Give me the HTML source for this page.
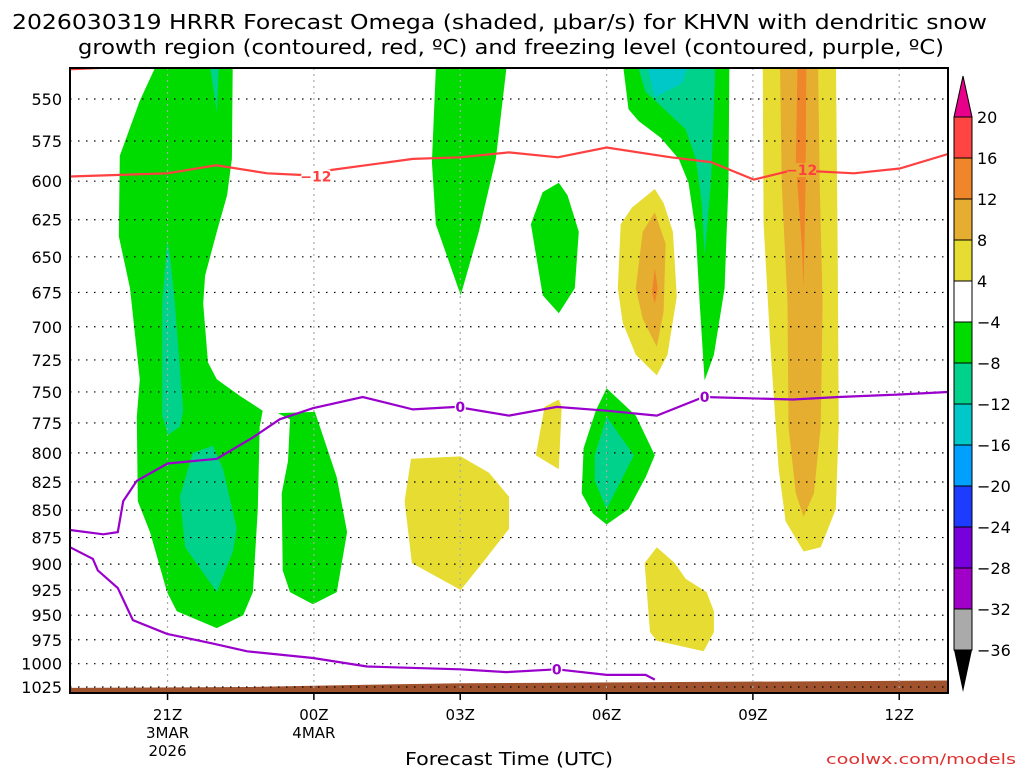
<!DOCTYPE html>
<html><head><meta charset="utf-8"><style>
html,body{margin:0;padding:0;background:#fff;width:1024px;height:768px;overflow:hidden}
svg{display:block;font-family:"DejaVu Sans","Liberation Sans",sans-serif}
</style></head><body>
<svg id="chart" width="1024" height="768" viewBox="0 0 1024 768" xmlns="http://www.w3.org/2000/svg">
<text x="12" y="29" font-size="20" textLength="975" lengthAdjust="spacingAndGlyphs">2026030319 HRRR Forecast Omega (shaded, μbar/s) for KHVN with dendritic snow</text>
<text x="78" y="54" font-size="20" textLength="866" lengthAdjust="spacingAndGlyphs">growth region (contoured, red, ºC) and freezing level (contoured, purple, ºC)</text>
<defs><clipPath id="plotclip"><rect x="70" y="68" width="878" height="625"/></clipPath></defs>
<g id="shade" clip-path="url(#plotclip)"></g>
<g id="grid"></g>
<g id="lines" clip-path="url(#plotclip)"></g>
<g id="axes"></g>
<g id="cbar"></g>
<text x="509" y="765" font-size="18" text-anchor="middle" textLength="208" lengthAdjust="spacingAndGlyphs">Forecast Time (UTC)</text>
<text x="1016" y="764" font-size="14" fill="#e03030" text-anchor="end" textLength="190" lengthAdjust="spacingAndGlyphs">coolwx.com/models</text>
</svg>
<script>
const pressureTicks=[550,575,600,625,650,675,700,725,750,775,800,825,850,875,900,925,950,975,1000,1025];
const timeTickHours=[2,5,8,11,14,17];
const timeTickLabels=["21Z","00Z","03Z","06Z","09Z","12Z"];
const timeTickSub=[["3MAR","2026"],["4MAR"],[],[],[],[]];
const cbarLevels=["20","16","12","8","4","−4","−8","−12","−16","−20","−24","−28","−32","−36"];
const cbarColors=["#ff4444","#f0862a","#e6ae30","#e6dc32","#ffffff","#00dc00","#00d28c","#00c8c8","#00a0ff","#1e3cff","#7800dc","#a000c8","#aaaaaa"];
// shaded regions: [hour since 19Z, pressure hPa]
const yellowA=[[6.99,805],[6.86,842],[7.01,899],[8.01,925],[8.52,895],[9.0,867],[9.0,838],[8.59,817],[8.01,803]];
const yellowB=[[10.02,756],[9.73,762],[9.55,802],[10.02,814],[10.08,762]];
const yellowC=[[11.99,605],[11.52,617],[11.29,628],[11.23,672],[11.33,697],[11.6,721],[12.03,737],[12.25,721],[12.44,678],[12.36,633],[12.17,614]];
const orangeC=[[11.99,620],[11.74,633],[11.6,672],[11.74,694],[12.03,715],[12.17,689],[12.21,641]];
const darkOrangeC=[[11.99,658],[11.93,675],[11.99,683],[12.05,672]];
const yellowD=[[12.03,884],[11.78,899],[11.89,967],[12.03,976],[12.99,987],[13.2,967],[13.2,946],[13.05,927],[12.62,914],[12.4,899]];
const yellowE=[[14.2,520],[14.22,628],[14.36,715],[14.53,814],[14.67,860],[15.04,888],[15.39,884],[15.7,849],[15.76,778],[15.74,655],[15.7,520]];
const orangeE=[[14.55,520],[14.59,601],[14.71,683],[14.73,778],[14.88,835],[15.04,856],[15.25,835],[15.39,778],[15.43,683],[15.37,601],[15.33,520]];
const darkOrangeE=[[14.92,520],[14.88,588],[15.0,641],[15.04,672],[15.08,601],[15.1,520]];
const greenA=[[1.95,520],[1.43,551],[1.02,584],[1.0,636],[1.23,672],[1.43,740],[1.37,770],[1.39,842],[1.64,870],[1.99,927],[2.19,946],[3.01,963],[3.55,950],[3.75,927],[3.85,849],[3.89,778],[3.95,765],[3.48,753],[3.01,740],[2.83,727],[2.73,683],[2.77,663],[3.01,633],[3.22,609],[3.32,586],[3.34,520]];
const tealA1=[[2.81,520],[3.01,558],[3.07,520]];
const tealA2=[[1.99,639],[1.89,683],[1.89,769],[2.01,785],[2.25,778],[2.32,765],[2.15,683],[2.05,649]];
const tealA3=[[2.93,794],[2.52,800],[2.25,838],[2.36,884],[3.01,927],[3.34,888],[3.42,867],[3.14,814]];
const greenB=[[4.26,767],[4.51,772],[4.47,807],[4.34,835],[4.36,906],[4.51,927],[4.98,939],[5.47,927],[5.68,870],[5.47,821],[5.18,785],[5.02,766]];
const greenC=[[7.52,520],[7.42,588],[7.5,628],[8.01,677],[8.38,633],[8.73,586],[9.0,520]];
const greenD=[[10.02,601],[9.69,607],[9.45,628],[9.69,677],[10.02,690],[10.35,672],[10.43,633],[10.2,609]];
const greenE=[[11.0,747],[10.78,765],[10.53,796],[10.49,835],[10.72,853],[11.0,863],[11.45,849],[11.8,821],[11.99,802],[11.6,769]];
const tealE=[[11.0,770],[10.76,802],[10.76,824],[11.0,849],[11.56,802]];
const greenF=[[11.29,520],[11.45,556],[11.66,563],[12.11,573],[12.48,586],[12.68,601],[12.83,633],[12.91,683],[13.01,741],[13.2,721],[13.42,672],[13.5,601],[13.52,520]];
const tealF=[[11.52,520],[11.8,546],[12.11,554],[12.62,568],[12.83,586],[12.95,614],[13.01,649],[13.14,601],[13.2,556],[13.24,520]];
const cyanF=[[11.74,520],[11.99,549],[12.54,541],[12.83,520]];
// contour lines
const dgzMinus12=[[0,597],[2.0,595],[3.0,590],[4.04,595],[4.71,596],[5.33,593],[7.03,586],[8.0,585],[9.0,582],[10.0,585],[11.0,579],[12.32,585],[13.14,588],[14.02,599],[14.82,593],[16.07,595],[17.01,592],[18,583]];
const dgzTopLeft=[[0,533],[1.64,531]];
const freezingUpper=[[0,868],[0.68,872],[0.98,870],[1.09,842],[1.37,824],[2.0,809],[3.01,805],[3.75,787],[4.3,772],[4.98,763],[6.0,754],[7.03,764],[7.93,762],[9.0,769],[9.98,762],[11.0,765],[12.03,769],[12.99,754],[14.82,756],[15.76,754],[17.01,752],[18,750]];
const freezingLower=[[0,884],[0.47,895],[0.57,906],[0.98,923],[1.29,955],[1.99,969],[2.93,979],[3.63,987],[4.98,994],[6.09,1003],[7.99,1006],[8.95,1009],[9.98,1006],[11.0,1012],[11.8,1012],[11.99,1017]];
const surfacePressure=[[0,1026],[3.69,1025],[5.53,1023],[7.99,1021],[18,1018]];
const redLabels=[[5.04,597,"−12"],[15.0,593,"−12"]];
const purpleLabels=[[8.0,762,"0"],[13.01,754,"0"],[9.98,1006,"0"]];

const X0=70,X1=948,Y0=68,Y1=693,H0=0,H1=18;
const yTop=99,yBot=687,pTop=550,pBot=1025;
const xs=h=>X0+(h-H0)/(H1-H0)*(X1-X0);
const ys=p=>yTop+(yBot-yTop)*Math.log(p/pTop)/Math.log(pBot/pTop);
const NS="http://www.w3.org/2000/svg";
function mk(tag,parent,attrs){const e=document.createElementNS(NS,tag);for(const k in attrs)e.setAttribute(k,attrs[k]);parent.appendChild(e);return e;}
const pts=a=>a.map(d=>xs(d[0]).toFixed(1)+","+ys(d[1]).toFixed(1)).join(" ");
const shade=document.getElementById("shade");
function poly(arr,color,name){const e=mk("polygon",shade,{points:pts(arr),fill:color});

}
poly(greenA,"#00dc00","omega-region-green-21z");
poly(tealA1,"#00d28c","omega-region-teal-21z-top");
poly(tealA2,"#00d28c","omega-region-teal-21z-mid");
poly(tealA3,"#00d28c","omega-region-teal-21z-low");
poly(greenB,"#00dc00","omega-region-green-00z");
poly(greenC,"#00dc00","omega-region-green-03z");
poly(greenD,"#00dc00","omega-region-green-05z");
poly(greenE,"#00dc00","omega-region-green-06z");
poly(tealE,"#00d28c","omega-region-teal-06z");
poly(greenF,"#00dc00","omega-region-green-07z");
poly(tealF,"#00d28c","omega-region-teal-07z");
poly(cyanF,"#00c8c8","omega-region-cyan-07z");
poly(yellowA,"#e6dc32","omega-region-yellow-03z");
poly(yellowB,"#e6dc32","omega-region-yellow-05z");
poly(yellowC,"#e6dc32","omega-region-yellow-07z-upper");
poly(orangeC,"#e6ae30","omega-region-orange-07z");
poly(darkOrangeC,"#f0862a","omega-region-darkorange-07z");
poly(yellowD,"#e6dc32","omega-region-yellow-07z-lower");
poly(yellowE,"#e6dc32","omega-region-yellow-10z");
poly(orangeE,"#e6ae30","omega-region-orange-10z");
poly(darkOrangeE,"#f0862a","omega-region-darkorange-10z");
// ground
const g=surfacePressure.concat([[18,1040],[0,1040]]);
const ground=mk("polygon",shade,{points:pts(g),fill:"#a0522d"});



// grid
const grid=document.getElementById("grid");
pressureTicks.forEach(p=>{const l=mk("line",grid,{x1:X0,x2:X1,y1:ys(p),y2:ys(p),stroke:"#000","stroke-width":1.2,"stroke-dasharray":"1.5,6.5"});

});
timeTickHours.forEach(h=>{const l=mk("line",grid,{x1:xs(h),x2:xs(h),y1:Y0,y2:Y1,stroke:"#aaa","stroke-width":1.2,"stroke-dasharray":"2,4"});

});

// contour lines
const lines=document.getElementById("lines");
function pl(arr,color,name){const e=mk("polyline",lines,{points:pts(arr),fill:"none",stroke:color,"stroke-width":2.2});

}
pl(dgzMinus12,"#ff4040","dgz-minus12-contour");
pl(dgzTopLeft,"#ff4040","dgz-top-contour");
pl(freezingUpper,"#9900cc","freezing-level-upper");
pl(freezingLower,"#9900cc","freezing-level-lower");
function lab(d,color,name,bg){const x=xs(d[0]),y=ys(d[1]);
const w=d[2].length*9+2;
const r=mk("rect",lines,{x:x-w/2,y:y-7,width:w,height:14,fill:bg});


const t=mk("text",lines,{x:x,y:y+5,"text-anchor":"middle","font-size":14,"font-weight":"bold",fill:color});t.textContent=d[2];

}
redLabels.forEach((d,i)=>lab(d,"#ff4040","dgz-contour-label",i==1?"#e6ae30":"#fff"));
purpleLabels.forEach(d=>lab(d,"#9900cc","freezing-contour-label","#fff"));

// axes
const axes=document.getElementById("axes");
const fr=mk("rect",axes,{x:X0,y:Y0,width:X1-X0,height:Y1-Y0,fill:"none",stroke:"#000","stroke-width":2});


pressureTicks.forEach(p=>{const t=mk("text",axes,{x:62,y:ys(p)+6,"text-anchor":"end","font-size":16});t.textContent=p;

});
timeTickHours.forEach((h,i)=>{const x=xs(h);
const tk=mk("line",axes,{x1:x,x2:x,y1:Y1,y2:Y1+7,stroke:"#000","stroke-width":1.5});


const t=mk("text",axes,{x:x,y:720,"text-anchor":"middle","font-size":15});t.textContent=timeTickLabels[i];


timeTickSub[i].forEach((s,j)=>{const u=mk("text",axes,{x:x,y:738+j*18,"text-anchor":"middle","font-size":15});u.textContent=s;

});});

// colorbar
const cb=document.getElementById("cbar");
const cx0=954,cx1=972,cTop=117,cStep=41;
const tu=mk("polygon",cb,{points:`${cx0},${cTop} ${cx1},${cTop} ${(cx0+cx1)/2},76`,fill:"#e8008a",stroke:"#000","stroke-width":1});


cbarColors.forEach((c,i)=>{const r=mk("rect",cb,{x:cx0,y:cTop+i*cStep,width:cx1-cx0,height:cStep,fill:c,stroke:"#000","stroke-width":1});

});
const yb=cTop+cbarColors.length*cStep;
const td=mk("polygon",cb,{points:`${cx0},${yb} ${cx1},${yb} ${(cx0+cx1)/2},${yb+42}`,fill:"#000"});


cbarLevels.forEach((s,i)=>{const t=mk("text",cb,{x:977,y:cTop+i*cStep+6,"font-size":16});t.textContent=s;

});
</script>
</body></html>
